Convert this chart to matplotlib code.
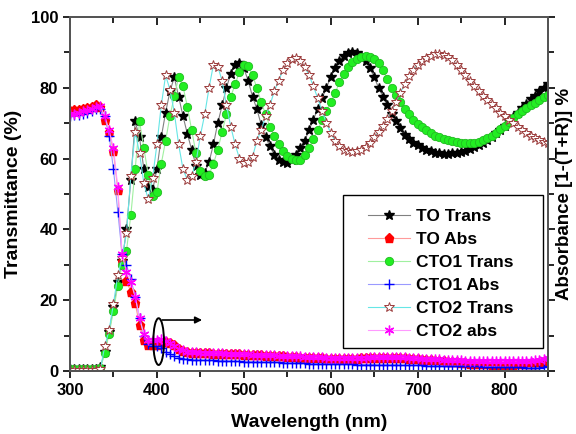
import numpy as np
import matplotlib.pyplot as plt
from matplotlib.patches import Ellipse, Rectangle
from matplotlib.ticker import MultipleLocator

plt.rcParams['font.family'] = ['Liberation Sans', 'DejaVu Sans']
plt.rcParams['font.weight'] = 'bold'

wavelength = np.arange(300, 851, 5)

to_trans = [0.5, 0.5, 0.5, 0.5, 0.5, 0.5, 0.6, 1.0, 5.5, 11.0,
            18.0, 25.0, 31.0, 40.0, 54.0, 70.5, 66.0, 57.0, 52.0, 51.0,
            57.0, 66.0, 73.0, 79.0, 83.0, 77.5, 72.0, 67.0, 62.5, 58.0,
            55.5, 56.0, 59.0, 64.0, 70.0, 75.0, 80.0, 84.0, 86.5, 87.0,
            85.5, 82.0, 77.5, 74.0, 69.5, 66.0, 63.5, 61.0, 59.5, 59.0,
            58.8, 59.5, 61.0, 63.0, 65.0, 68.0, 71.0, 74.0, 77.0, 80.0,
            83.0, 85.5, 87.5, 89.0, 89.8, 90.0, 89.8, 89.0, 87.5, 85.5,
            83.0, 80.0, 77.5, 75.0, 72.5, 70.5, 68.5, 66.8, 65.5, 64.5,
            63.7, 63.0, 62.5, 62.0, 61.7, 61.5, 61.4, 61.4, 61.5, 61.6,
            61.8, 62.2, 62.7, 63.2, 63.8, 64.5, 65.3, 66.2, 67.2, 68.2,
            69.3, 70.5, 71.7, 73.0, 74.2, 75.5, 76.7, 77.8, 79.0, 80.0,
            81.0]

to_abs = [73.5, 73.6, 73.8, 74.0, 74.2, 74.6, 75.1, 74.5, 71.0, 67.5,
          62.0, 51.0, 31.0, 25.5, 22.3, 19.2, 13.0, 8.8, 7.3, 7.2,
          7.3, 7.6, 8.2, 8.0, 7.2, 6.2, 5.7, 5.4, 5.2, 5.1,
          5.0, 5.0, 5.0, 4.9, 4.9, 4.8, 4.8, 4.8, 4.7, 4.7,
          4.6, 4.6, 4.5, 4.5, 4.4, 4.3, 4.3, 4.2, 4.2, 4.1,
          4.0, 4.0, 3.9, 3.8, 3.8, 3.7, 3.7, 3.6, 3.6, 3.5,
          3.5, 3.5, 3.5, 3.5, 3.5, 3.5, 3.5, 3.6, 3.6, 3.6,
          3.7, 3.7, 3.7, 3.8, 3.8, 3.8, 3.7, 3.6, 3.5, 3.4,
          3.3, 3.2, 3.1, 3.0, 2.9, 2.8, 2.7, 2.6, 2.5, 2.4,
          2.3, 2.2, 2.1, 2.0, 2.0, 1.9, 1.9, 1.8, 1.8, 1.8,
          1.8, 1.8, 1.8, 1.9, 1.9, 2.0, 2.0, 2.1, 2.3, 2.6,
          2.8]

cto1_trans = [0.5, 0.5, 0.5, 0.5, 0.5, 0.5, 0.5, 0.8, 5.0, 10.5,
              17.0, 24.0, 30.0, 34.0, 44.0, 57.0, 70.5, 63.0, 55.5, 49.5,
              50.5, 58.5, 65.0, 72.0, 77.6, 83.0, 80.4, 74.7, 68.0, 61.5,
              56.5, 55.2, 55.5, 58.5, 62.5, 67.5, 72.5, 77.5, 81.0, 84.5,
              86.5, 86.2, 83.5, 80.0, 76.0, 72.5, 69.0, 66.5, 64.0, 62.0,
              60.7, 59.9, 59.5, 59.7, 61.0, 63.0, 65.5, 68.0, 71.0, 73.5,
              76.0, 78.5, 81.5, 84.0, 86.0, 87.3, 88.2, 88.7, 89.0, 88.8,
              88.0, 87.0, 85.0, 82.5, 80.0, 78.0, 76.0, 74.0, 72.5, 71.0,
              69.8, 69.0, 68.0, 67.2, 66.5, 66.0, 65.6, 65.2, 64.9, 64.6,
              64.4, 64.3, 64.3, 64.4, 64.7, 65.2, 65.8, 66.5, 67.3, 68.3,
              69.3, 70.3, 71.5, 72.5, 73.3, 74.2, 75.0, 75.8, 76.6, 77.3,
              78.0]

cto1_abs = [72.0, 72.2, 72.4, 72.7, 73.0, 73.4, 74.0, 74.0, 72.0, 66.5,
            57.0, 45.0, 33.0, 30.0, 26.0, 21.0, 15.0, 10.0, 7.5, 7.0,
            7.0, 6.5, 5.5, 4.8, 4.2, 3.8, 3.5, 3.3, 3.2, 3.1,
            3.1, 3.0, 3.0, 3.0, 2.9, 2.9, 2.8, 2.8, 2.7, 2.7,
            2.6, 2.6, 2.6, 2.5, 2.5, 2.5, 2.4, 2.4, 2.4, 2.3,
            2.3, 2.3, 2.2, 2.2, 2.2, 2.1, 2.1, 2.1, 2.0, 2.0,
            2.0, 2.0, 1.9, 1.9, 1.9, 1.9, 1.8, 1.8, 1.8, 1.8,
            1.8, 1.7, 1.7, 1.7, 1.7, 1.7, 1.6, 1.6, 1.6, 1.6,
            1.6, 1.6, 1.5, 1.5, 1.5, 1.5, 1.4, 1.4, 1.4, 1.4,
            1.4, 1.3, 1.3, 1.3, 1.3, 1.2, 1.2, 1.2, 1.2, 1.1,
            1.1, 1.1, 1.0, 1.0, 1.0, 0.9, 0.9, 0.9, 0.9, 1.0,
            1.3]

cto2_trans = [0.3, 0.3, 0.3, 0.3, 0.3, 0.3, 0.3, 0.5, 7.0, 11.5,
              19.0, 27.0, 32.0, 39.0, 55.0, 67.5, 61.5, 53.0, 48.5, 54.5,
              64.0, 75.0, 83.5, 79.5, 73.0, 64.0, 57.0, 54.0, 55.0, 59.0,
              66.5, 72.5, 80.0, 86.5, 86.0, 82.0, 75.0, 69.0, 64.0, 60.0,
              58.7, 59.0, 60.5, 65.0, 68.0, 72.0, 75.0, 79.0, 82.0, 85.0,
              87.0, 88.0, 88.4, 87.5, 86.0, 83.5, 80.5, 77.0, 73.5, 70.0,
              67.2, 65.0, 63.5, 62.5, 62.0, 61.8, 62.0, 62.5, 63.3, 64.5,
              66.0, 67.5, 69.3, 71.2, 73.5, 76.0, 78.5, 81.0, 83.2, 85.0,
              86.5, 87.5, 88.4, 89.0, 89.4, 89.5, 89.3, 88.8, 87.8, 86.5,
              85.0, 83.5, 82.0, 80.5, 79.0, 77.8, 76.5, 75.3, 74.2, 73.0,
              72.0, 71.0, 70.0, 69.0, 68.1, 67.3, 66.5, 65.8, 65.2, 64.7,
              64.3]

cto2_abs = [72.5, 72.7, 73.0, 73.3, 73.6, 74.0, 74.5, 74.8, 72.0, 68.0,
            63.0, 52.0, 33.0, 28.0, 25.0, 21.0, 15.0, 10.5, 8.8, 8.7,
            8.8, 8.9, 8.6, 7.8, 7.0, 6.2, 5.8, 5.5, 5.4, 5.3,
            5.2, 5.2, 5.1, 5.1, 5.0, 5.0, 4.9, 4.9, 4.8, 4.8,
            4.7, 4.7, 4.6, 4.6, 4.5, 4.5, 4.4, 4.4, 4.3, 4.3,
            4.2, 4.2, 4.1, 4.1, 4.0, 4.0, 3.9, 3.9, 3.9, 3.8,
            3.8, 3.8, 3.8, 3.8, 3.8, 3.8, 3.8, 3.8, 3.8, 3.9,
            3.9, 3.9, 4.0, 4.0, 4.0, 4.0, 3.9, 3.9, 3.8, 3.7,
            3.6, 3.5, 3.5, 3.4, 3.3, 3.3, 3.2, 3.1, 3.1, 3.0,
            3.0, 2.9, 2.9, 2.8, 2.8, 2.8, 2.7, 2.7, 2.7, 2.7,
            2.7, 2.7, 2.7, 2.8, 2.8, 2.8, 2.9, 3.0, 3.2, 3.4,
            3.6]

fig = plt.figure(figsize=(5.76, 4.34), dpi=100)
ax = fig.add_axes([0.1215, 0.1452, 0.830, 0.8157])

ms = 6
ax.plot(wavelength, to_trans, color='#808080', lw=0.8, marker='*', ms=ms + 1.5,
        mfc='black', mec='black', label='TO Trans')
ax.plot(wavelength, to_abs, color='#ff9a9a', lw=0.8, marker='p', ms=ms + 0.5,
        mfc='#ff0000', mec='#ff0000', label='TO Abs')
ax.plot(wavelength, cto1_trans, color='#a0f0a0', lw=0.8, marker='o', ms=ms,
        mfc='#22ee22', mec='#22bb22', mew=0.6, label='CTO1 Trans')
ax.plot(wavelength, cto1_abs, color='#9a9aff', lw=0.8, marker='+', ms=ms + 1,
        mec='#0000ff', mew=1.0, label='CTO1 Abs')
ax.plot(wavelength, cto2_trans, color='#66e6e6', lw=0.8, marker='*', ms=ms + 1.5,
        mfc='white', mec='#9b3b3b', mew=0.7, label='CTO2 Trans')
ax.plot(wavelength, cto2_abs, color='#ff9aff', lw=0.8, marker=(6, 2, 0), ms=ms + 1,
        mec='#ff00ff', mew=1.0, label='CTO2 abs')

# ellipse + arrow pointing to the right (absorbance) axis
ax.add_patch(Ellipse((402, 8.3), 12.3, 13.2, fill=False, ec='black', lw=1.4, zorder=5))
ax.annotate('', xy=(452, 14.4), xytext=(406, 14.4),
            arrowprops=dict(arrowstyle='-|>', color='black', lw=1.2,
                            mutation_scale=10, shrinkA=0, shrinkB=0), zorder=5)

ax.set_xlim(300, 850)
ax.set_ylim(0, 100)
ax.xaxis.set_major_locator(MultipleLocator(100))
ax.xaxis.set_minor_locator(MultipleLocator(50))
ax.yaxis.set_major_locator(MultipleLocator(20))
ax.yaxis.set_minor_locator(MultipleLocator(10))
ax.tick_params(which='both', direction='out', labelsize=12, colors='black',
               top=False, right=False)
ax.tick_params(which='major', length=5, width=1.2)
ax.tick_params(which='minor', length=4, width=1.2)
for s in ax.spines.values():
    s.set_color('#555555')
    s.set_linewidth(1.4)

ax.set_xlabel('Wavelength (nm)', fontsize=14, fontweight='bold', labelpad=12)
ax.set_ylabel('Transmittance (%)', fontsize=14, fontweight='bold', labelpad=6)

# right axis: ticks only, plus the absorbance label
ax2 = ax.twinx()
ax2.set_ylim(0, 100)
ax2.yaxis.set_major_locator(MultipleLocator(20))
ax2.yaxis.set_minor_locator(MultipleLocator(10))
ax2.tick_params(which='both', direction='out', labelright=False, width=1.2)
ax2.tick_params(which='major', length=5)
ax2.tick_params(which='minor', length=4)
ax2.set_ylabel('Absorbance [1-(T+R)] %', fontsize=13.5, fontweight='bold', labelpad=1)
for s in ax2.spines.values():
    s.set_color('#555555')
    s.set_linewidth(1.4)

# top ticks point inward
top = ax.secondary_xaxis('top')
top.xaxis.set_major_locator(MultipleLocator(100))
top.xaxis.set_minor_locator(MultipleLocator(50))
top.tick_params(which='both', direction='in', labeltop=False, width=1.2)
top.tick_params(which='major', length=6)
top.tick_params(which='minor', length=4)
top.spines['top'].set_color('#555555')
top.spines['top'].set_linewidth(1.4)

# legend box drawn separately so the entries can sit inset like the original
ax2.add_patch(Rectangle((0.571, 0.065), 0.419, 0.432, transform=ax.transAxes,
                        fill=True, fc='white', ec='black', lw=1.0, zorder=9))
leg = ax2.legend(*ax.get_legend_handles_labels(), loc='upper left',
                 bbox_to_anchor=(0.623, 0.458), fontsize=12.5, frameon=False,
                 handlelength=2.42, labelspacing=0.45, borderpad=0,
                 handletextpad=0.35, borderaxespad=0)
leg.set_zorder(10)

fig.savefig('out.png', dpi=100)
